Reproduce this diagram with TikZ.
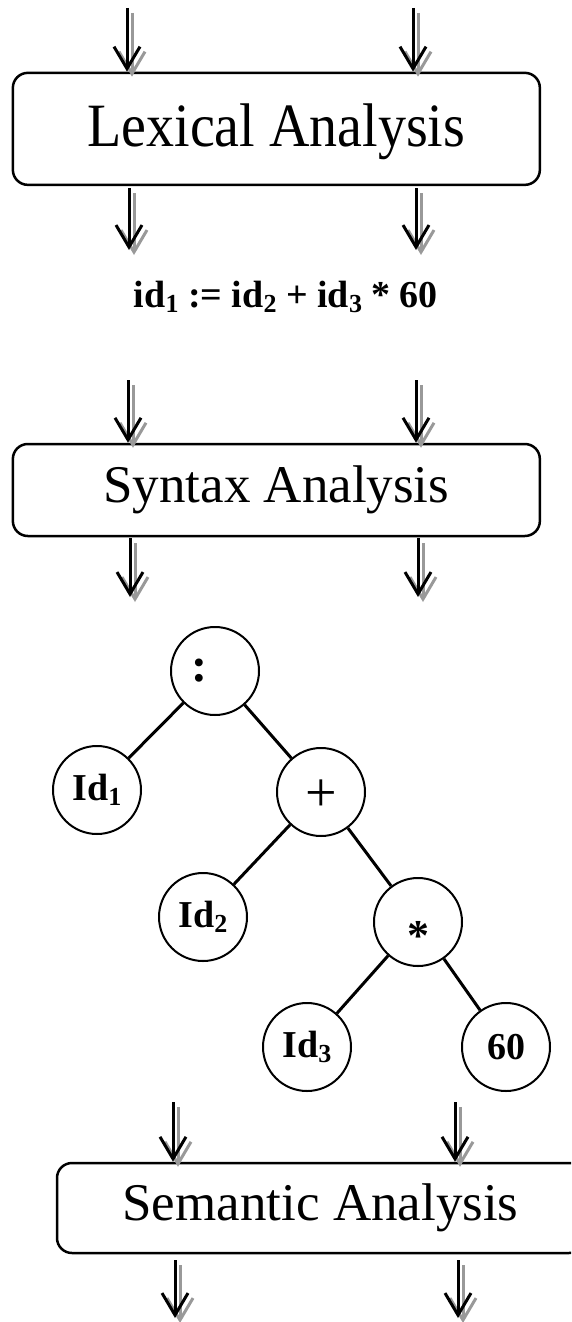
\documentclass[tikz,border=0pt]{standalone}
\usepackage{fontspec}
\setmainfont{Liberation Serif}
\usetikzlibrary{arrows.meta}
\newcommand\shadarrow[2]{%
  \draw[shadowline] ([shift={(5,5)}]#1) -- ([shift={(5,5)}]#2);
  \draw[mainline] (#1) -- (#2);}
\newcommand\sub[1]{\raisebox{-0.12em}{\fontsize{26}{26}\selectfont #1}}
\begin{document}
\begin{tikzpicture}[x=1pt,y=-1pt,
  mainline/.style={line width=3pt,black,-{Straight Barb[length=22pt,width=26pt,line width=3pt]}},
  shadowline/.style={line width=3pt,black!40,-{Straight Barb[length=22pt,width=26pt,line width=3pt]}},
  stage/.style={draw,line width=2.5pt,rounded corners=15pt,inner sep=0pt,
    minimum width=527pt,font=\fontsize{53}{53}\selectfont},
  treenode/.style={draw,circle,line width=2pt,minimum size=88pt,inner sep=0pt,
    font=\fontsize{38}{38}\selectfont\bfseries},
  treeedge/.style={line width=3pt}]
\useasboundingbox (0,0) rectangle (571,1322);
\clip (0,0) rectangle (571,1322);

% stages
\node[stage,minimum height=112pt] (lex) at (276.35,128.85)
  {\fontsize{56}{56}\selectfont\smash{\raisebox{-18pt}{\scalebox{1}[1.1]{Lexical Analysis}}}};
\node[stage,minimum height=92pt] (syn) at (276.35,490) {Syntax Analysis};
\node[stage,minimum height=90pt] (sem) at (320.5,1208) {Semantic Analysis};

% token stream
\node[font=\fontsize{38}{38}\selectfont\bfseries] (tok) at (286,297)
  {id\sub{1} := id\sub{2} + id\sub{3} * 60};

% arrow free ends
\coordinate (a1) at (127,8);    \coordinate (a2) at (413,8);
\coordinate (b1) at (129,188);  \coordinate (b2) at (416,188);
\coordinate (b1e) at (129,250); \coordinate (b2e) at (416,250);
\coordinate (c1) at (128,380);  \coordinate (c2) at (416,380);
\coordinate (d1) at (130,538);  \coordinate (d2) at (418,538);
\coordinate (d1e) at (130,597); \coordinate (d2e) at (418,597);
\coordinate (e1) at (173,1102); \coordinate (e2) at (455,1102);
\coordinate (f1) at (175,1260); \coordinate (f2) at (458,1260);
\coordinate (f1e) at (175,1318); \coordinate (f2e) at (458,1318);

\shadarrow{a1}{a1 |- lex.north}
\shadarrow{a2}{a2 |- lex.north}
\shadarrow{b1}{b1e}
\shadarrow{b2}{b2e}
\shadarrow{c1}{c1 |- syn.north}
\shadarrow{c2}{c2 |- syn.north}
\shadarrow{d1}{d1e}
\shadarrow{d2}{d2e}
\shadarrow{e1}{e1 |- sem.north}
\shadarrow{e2}{e2 |- sem.north}
\shadarrow{f1}{f1e}
\shadarrow{f2}{f2e}

% syntax tree
\node[treenode] (colon) at (215,671)
  {\fontsize{48}{48}\selectfont\makebox[0pt]{\kern-32pt\raisebox{2pt}{:}}};
\node[treenode] (id1) at (97,790) {Id\sub{1}};
\node[treenode] (plus) at (321,792)
  {\fontsize{56}{56}\selectfont\mdseries\smash{\raisebox{-19pt}{+}}};
\node[treenode] (id2) at (203,917) {Id\sub{2}};
\node[treenode] (star) at (418,922)
  {\fontsize{44}{44}\selectfont\smash{\raisebox{-28pt}{*}}};
\node[treenode] (id3) at (307,1047) {Id\sub{3}};
\node[treenode] (sixty) at (506,1047) {60};

\draw[treeedge] (colon) -- (id1);
\draw[treeedge] (colon) -- (plus);
\draw[treeedge] (plus) -- (id2);
\draw[treeedge] (plus) -- (star);
\draw[treeedge] (star) -- (id3);
\draw[treeedge] (star) -- (sixty);
\end{tikzpicture}
\end{document}
